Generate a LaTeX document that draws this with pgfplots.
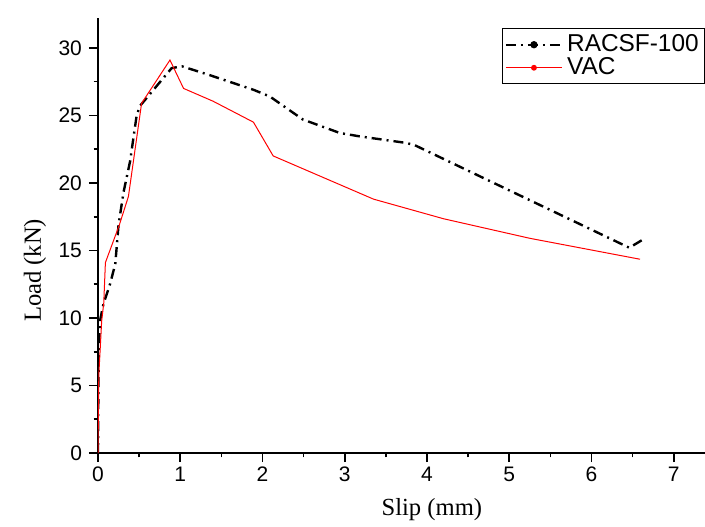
\documentclass[border=0pt]{standalone}
\usepackage{fontspec}
\setmainfont{Liberation Serif}
\setsansfont{Liberation Sans}
\usepackage{pgfplots}
\pgfplotsset{compat=1.18}

\begin{document}
\begin{tikzpicture}
  \begin{axis}[
      scale only axis,
      width=303.5pt, height=217.4pt,
      xmin=0, xmax=7.38,
      ymin=0, ymax=32.2,
      axis lines=left,
      axis line style={-, line width=0.9pt},
      xtick={0,1,...,7},
      ytick={0,5,...,30},
      minor tick num=1,
      tick align=outside,
      major tick length=4.5pt,
      minor tick length=2.2pt,
      tick style={black, line width=0.8pt},
      ticklabel style={font=\sffamily\fontsize{10.5}{12}\selectfont},
      xticklabel style={yshift=1pt},
      /pgf/number format/assume math mode=true,
      xlabel={Slip (mm)},
      ylabel={Load (kN)},
      xlabel style={at={([yshift=-28.5pt]axis description cs:0.55,0)}, anchor=center, font=\fontsize{12.3}{14}\selectfont},
      ylabel style={at={([xshift=-31.5pt]axis description cs:0,0.42)}, anchor=center, font=\fontsize{12.3}{14}\selectfont},
      legend style={at={(0.666,0.977)}, anchor=north west, draw=black, line width=0.5pt,
        font=\sffamily\fontsize{12.2}{13}\selectfont, inner sep=1pt, row sep=-2.5pt},
      legend cell align=left,
      legend image code/.code={
        \draw[#1] (0pt,0pt) -- (28pt,0pt);
        \fill[#1, solid] (14pt,0pt) circle (1.2pt);
      },
    ]
    % RACSF-100
    \addplot[black, line width=1.2pt, dash pattern=on 5pt off 2.5pt on 1pt off 2.5pt] coordinates {
        (0,0) (0.005,5) (0.01,7.8) (0.025,9.8) (0.065,11.0) (0.146,12.5) (0.21,14.0)
        (0.25,16.9) (0.31,19.3) (0.39,21.6) (0.47,25.0) (0.51,25.7) (0.895,28.5)
        (1.02,28.64) (1.36,27.98) (1.89,26.9) (2.09,26.4) (2.49,24.7) (2.94,23.7)
        (3.18,23.45) (3.75,22.96) (3.85,22.8) (6.46,15.2) (6.65,15.9)
      };
    \addlegendentry{RACSF-100}

    % VAC
    \addplot[red, line width=0.5pt] coordinates {
        (0,0) (0.01,5.8) (0.045,9.8) (0.07,11.1) (0.09,14.1) (0.26,16.9) (0.37,19.0)
        (0.53,25.9) (0.875,29.1) (1.04,27.0) (1.40,26.05) (1.89,24.5) (2.13,22.0)
        (3.35,18.8) (4.20,17.35) (5.25,15.9) (6.59,14.35)
      };
    \addlegendentry{VAC}
  \end{axis}
  \pgfresetboundingbox
  \path[use as bounding box] ([xshift=-49pt,yshift=-36.5pt]current axis.south west) rectangle ++(352.5pt,263pt);
\end{tikzpicture}
\end{document}
